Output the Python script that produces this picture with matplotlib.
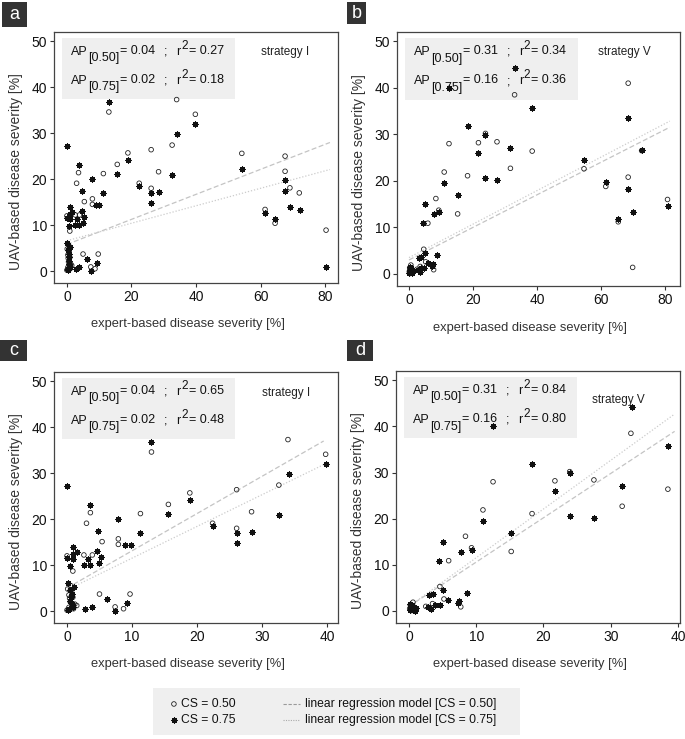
import matplotlib
matplotlib.use('Agg')
import matplotlib.pyplot as plt
import numpy as np
from matplotlib.patches import Rectangle

plt.rcParams['font.family'] = ['Liberation Sans', 'DejaVu Sans']

# strategy I - CS = 0.50 (circles)
s1_x50 = [13.0, 34.0, 39.8, 32.6, 18.9, 15.6, 11.3, 26.1, 26.1, 28.4,
          22.4, 7.9, 7.9, 3.6, 3.0, 5.4, 0.0, 2.6, 3.9, 0.9,
          5.0, 7.4, 8.7, 9.7, 54.2, 67.6, 67.6, 69.1, 72.0, 61.4,
          64.5, 80.3,
          0.1, 0.3, 0.5, 0.8, 1.0, 0.2, 0.6, 0.4, 1.2, 0.0, 0.7, 0.3, 1.5, 0.9]
s1_y50 = [34.6, 37.3, 34.1, 27.4, 25.7, 23.2, 21.2, 26.4, 18.0, 21.6,
          19.1, 15.7, 14.5, 21.4, 19.1, 15.1, 12.0, 12.2, 12.2, 8.7,
          3.7, 0.9, 0.5, 3.7, 25.6, 25.0, 21.7, 18.1, 17.0, 13.4,
          10.4, 8.9,
          4.8, 3.5, 2.0, 1.0, 0.5, 0.3, 5.5, 2.8, 1.5, 0.2, 4.2, 0.8, 1.2, 3.0]

# strategy I - CS = 0.75 (asterisks)
s1_x75 = [0.0, 13.0, 39.8, 34.2, 32.6, 18.9, 15.6, 11.2, 26.1, 26.2,
          28.4, 22.4, 7.9, 8.9, 9.8, 3.6, 4.8, 0.0, 0.9, 0.9,
          0.9, 1.6, 2.6, 3.2, 3.6, 4.6, 5.0, 5.3, 0.5, 6.2,
          7.4, 9.3, 2.8, 3.8, 54.2, 67.6, 67.6, 69.1, 72.2, 61.4,
          64.5, 80.3,
          0.1, 0.4, 0.6, 0.8, 1.0, 0.2, 0.5, 1.1, 0.3, 0.7]
s1_y75 = [27.3, 36.8, 32.0, 29.8, 21.0, 24.1, 21.2, 17.0, 17.0, 14.9,
          17.2, 18.5, 20.1, 14.3, 14.3, 23.0, 17.5, 11.5, 14.0, 12.5,
          11.3, 12.9, 10.1, 11.3, 10.1, 13.0, 10.5, 11.8, 9.8, 2.7,
          0.0, 1.7, 0.5, 0.9, 22.3, 19.8, 17.5, 14.0, 13.3, 12.7,
          11.4, 0.9,
          6.0, 4.5, 3.0, 1.5, 0.8, 0.2, 2.2, 5.2, 0.5, 3.8]

# strategy V - CS = 0.50 (circles)
s5_x50 = [33.0, 38.5, 31.7, 27.5, 23.9, 21.7, 18.3, 15.2, 12.5, 11.0,
          9.3, 8.4, 5.9, 4.6, 7.7, 0.6, 54.7, 68.5, 68.5, 69.9,
          72.7, 61.5, 65.4, 80.8,
          0.1, 0.3, 0.5, 0.8, 1.0, 0.2, 0.4, 2.5, 3.5, 5.2]
s5_y50 = [38.5, 26.4, 22.7, 28.4, 30.2, 28.2, 21.1, 12.9, 28.0, 21.9,
          13.7, 16.2, 10.9, 5.3, 0.9, 1.9, 22.6, 41.0, 20.8, 1.4,
          26.5, 18.8, 11.2, 16.0,
          0.5, 1.0, 0.2, 0.8, 0.4, 1.3, 0.1, 1.0, 1.6, 2.6]

# strategy V - CS = 0.75 (asterisks)
s5_x75 = [12.5, 33.1, 38.5, 31.7, 27.5, 23.9, 23.9, 21.7, 18.3, 15.2,
          11.0, 9.3, 7.8, 5.0, 4.5, 5.1, 8.7, 3.0, 3.6, 5.8,
          7.4, 7.3, 3.8, 4.6, 2.8, 3.3, 54.7, 68.5, 68.5, 69.9,
          72.7, 61.5, 65.4, 80.8,
          0.1, 0.3, 0.5, 0.7, 0.9, 0.2, 1.1, 0.4]
s5_y75 = [40.0, 44.2, 35.7, 27.1, 20.1, 29.9, 20.6, 26.0, 31.8, 16.9,
          19.5, 13.2, 12.8, 15.0, 10.9, 4.6, 4.0, 3.5, 3.7, 2.3,
          2.2, 1.7, 1.3, 1.3, 0.9, 0.4, 24.4, 33.6, 18.2, 13.4,
          26.7, 19.7, 11.9, 14.5,
          0.3, 0.8, 1.2, 0.5, 0.1, 1.5, 0.6, 0.9]

# regression lines (intercept, slope)
reg50 = {'a': (5.8, 0.272), 'b': (3.0, 0.350), 'c': (5.0, 0.81), 'd': (1.0, 0.96)}
reg75 = {'a': (6.6, 0.190), 'b': (3.5, 0.360), 'c': (4.6, 0.69), 'd': (1.0, 1.055)}

ap50 = {'a': '0.04', 'b': '0.31', 'c': '0.04', 'd': '0.31'}
ap75 = {'a': '0.02', 'b': '0.16', 'c': '0.02', 'd': '0.16'}
r2_50 = {'a': '0.27', 'b': '0.34', 'c': '0.65', 'd': '0.84'}
r2_75 = {'a': '0.18', 'b': '0.36', 'c': '0.48', 'd': '0.80'}
strategy = {'a': 'strategy I', 'b': 'strategy V', 'c': 'strategy I', 'd': 'strategy V'}
strategy_pos = {'a': (0.729, 0.91), 'b': (0.71, 0.91), 'c': (0.731, 0.905), 'd': (0.69, 0.875)}

W, H = 685, 739
fig = plt.figure(figsize=(W / 100, H / 100), dpi=100)
TXT = '#111111'


def px_rect(x0, y0, x1, y1):
    # pixel box (top-left origin) -> figure fraction [l, b, w, h]
    return [x0 / W, 1 - y1 / H, (x1 - x0) / W, (y1 - y0) / H]


def stat_line(ax, y, sub, ap, r2):
    kw = dict(transform=ax.transAxes, fontsize=9, va='baseline', color=TXT)
    ax.text(0.060, y, 'AP', **kw)
    ax.text(0.119, y - 0.027, sub, **kw)
    ax.text(0.232, y + 0.004, '= ' + ap, **kw)
    ax.text(0.387, y, ';', **kw)
    ax.text(0.430, y, 'r', **kw)
    ax.text(0.448, y + 0.024, '2', transform=ax.transAxes, fontsize=8.5,
            va='baseline', color=TXT)
    ax.text(0.474, y + 0.004, '= ' + r2, **kw)


def draw_panel(key, box, xs50, ys50, xs75, ys75, xlim, xticks, xmax):
    ax = fig.add_axes(px_rect(*box))
    ax.add_patch(Rectangle((0.028, 0.733), 0.61, 0.243, transform=ax.transAxes,
                           facecolor='#efefef', edgecolor='none', zorder=0))
    xs50 = np.array(xs50); ys50 = np.array(ys50)
    xs75 = np.array(xs75); ys75 = np.array(ys75)
    m50 = xs50 <= xmax
    m75 = xs75 <= xmax
    ax.scatter(xs50[m50], ys50[m50], s=11, facecolors='none', edgecolors='#222222',
               linewidths=0.6, zorder=3)
    ax.scatter(xs75[m75], ys75[m75], s=13, marker=(8, 2, 0), c='#111111',
               linewidths=0.9, zorder=3)
    xe = 81.5 if xmax > 40 else 39.5
    xx = np.array([0, xe])
    b0, b1 = reg50[key]
    ax.plot(xx, b0 + b1 * xx, color='#c4c4c4', lw=0.9, dashes=(4, 2), zorder=2)
    b0, b1 = reg75[key]
    ax.plot(xx, b0 + b1 * xx, color='#cccccc', lw=0.9, dashes=(1, 1.5), zorder=2)

    ax.set_xlim(*xlim)
    ax.set_ylim(-2.6, 52)
    ax.set_xticks(xticks)
    ax.set_yticks([0, 10, 20, 30, 40, 50])
    ax.tick_params(direction='out', length=3, width=0.8, labelsize=10, pad=2,
                   colors='#333333', labelcolor=TXT)
    for sp in ax.spines.values():
        sp.set_color('#444444')
        sp.set_linewidth(0.9)
    ax.set_xlabel('expert-based disease severity [%]', fontsize=9.3, color='#333333')
    ax.set_ylabel('UAV-based disease severity [%]', fontsize=10, color='#333333')
    ax.xaxis.set_label_coords(0.47, -0.14)
    ax.yaxis.set_label_coords(-0.108, 0.445)

    stat_line(ax, 0.91, '[0.50]', ap50[key], r2_50[key])
    stat_line(ax, 0.794, '[0.75]', ap75[key], r2_75[key])
    sx, sy = strategy_pos[key]
    ax.text(sx, sy, strategy[key], transform=ax.transAxes, fontsize=8.5,
            va='baseline', color='#222222')
    return ax


draw_panel('a', (54, 32, 338, 283), s1_x50, s1_y50, s1_x75, s1_y75, (-4, 84), [0, 20, 40, 60, 80], 100)
draw_panel('b', (397, 32, 680, 286), s5_x50, s5_y50, s5_x75, s5_y75, (-3.75, 84.7), [0, 20, 40, 60, 80], 100)
draw_panel('c', (54, 372, 338, 623), s1_x50, s1_y50, s1_x75, s1_y75, (-2, 41.7), [0, 10, 20, 30, 40], 40)
draw_panel('d', (396, 371, 680, 623), s5_x50, s5_y50, s5_x75, s5_y75, (-1.93, 40.3), [0, 10, 20, 30, 40], 40)

# panel letters
for letter, (x0, y0, x1, y1) in [('a', (2, 2, 27, 27)), ('b', (347, 2, 366, 24)),
                                 ('c', (0, 340, 27, 361)), ('d', (347, 340, 373, 361))]:
    l, b, w, h = px_rect(x0, y0, x1, y1)
    fig.add_artist(Rectangle((l, b), w, h, transform=fig.transFigure,
                             facecolor='#333333', edgecolor='none'))
    fig.text(l + w / 2, b + h / 2, letter, color='white', fontsize=13,
             ha='center', va='center')

# legend box
lax = fig.add_axes(px_rect(153, 688, 520, 735))
lax.set_facecolor('#efefef')
lax.set_xlim(0, 1)
lax.set_ylim(0, 1)
for sp in lax.spines.values():
    sp.set_visible(False)
lax.set_xticks([])
lax.set_yticks([])
lax.scatter([0.057], [0.66], s=11, facecolors='none', edgecolors='#222222', linewidths=0.6)
lax.scatter([0.057], [0.32], s=13, marker=(8, 2, 0), c='#111111', linewidths=0.9)
lax.text(0.076, 0.66, 'CS = 0.50', fontsize=8.7, va='center', color=TXT)
lax.text(0.076, 0.32, 'CS = 0.75', fontsize=8.7, va='center', color=TXT)
lax.plot([0.355, 0.40], [0.66, 0.66], color='#9a9a9a', lw=0.8, dashes=(3, 1.5))
lax.plot([0.355, 0.40], [0.32, 0.32], color='#aaaaaa', lw=0.8, dashes=(1, 1.2))
lax.text(0.415, 0.66, 'linear regression model [CS = 0.50]', fontsize=8.7, va='center', color=TXT)
lax.text(0.415, 0.32, 'linear regression model [CS = 0.75]', fontsize=8.7, va='center', color=TXT)

fig.savefig('out.png', dpi=100)
